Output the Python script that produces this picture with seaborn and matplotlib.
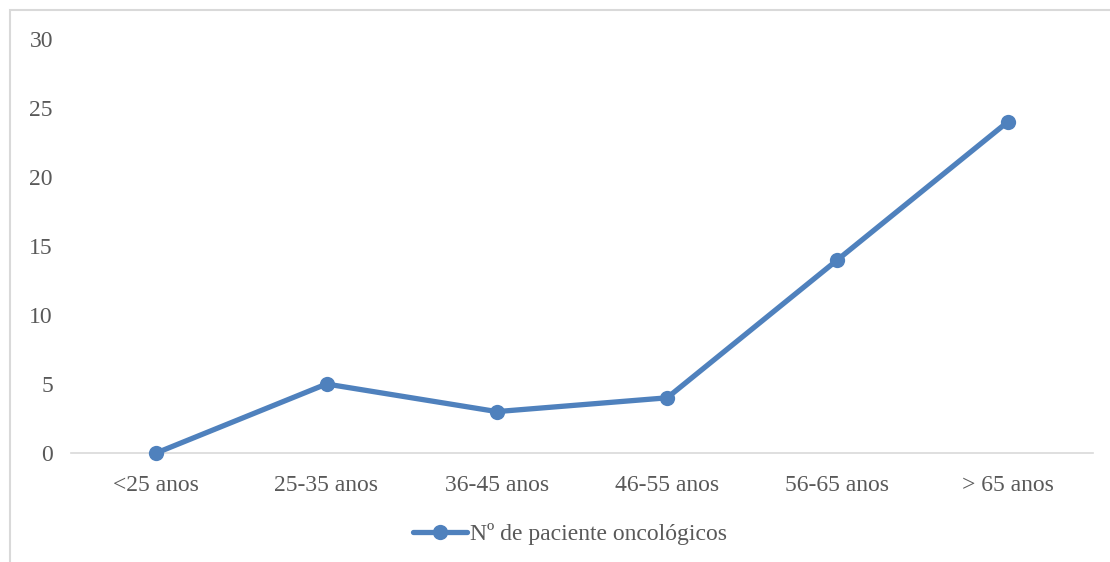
import matplotlib.pyplot as plt
import seaborn as sns
import pandas as pd
from matplotlib.patches import Rectangle

# dados
faixas = ['<25 anos', '25-35 anos', '36-45 anos', '46-55 anos', '56-65 anos', '> 65 anos']
pacientes = [0, 5, 3, 4, 14, 24]
serie = 'Nº de paciente oncológicos'

df = pd.DataFrame({'faixa': faixas, 'n': pacientes})

sns.set_style('white')
plt.rcParams['font.family'] = ['Liberation Serif', 'DejaVu Serif']
cor = '#4F81BD'
txt = '#595959'

fig = plt.figure(figsize=(11.1, 5.62), dpi=100)
ax = fig.add_axes([71/1110, 109/562, 1022/1110, 414/562])

sns.lineplot(data=df, x='faixa', y='n', ax=ax, color=cor, linewidth=3.8,
             marker='o', markersize=11, markeredgewidth=0, label=serie,
             sort=False, clip_on=False, zorder=3)

ax.set_xlim(-0.5, len(faixas) - 0.5)
ax.set_ylim(0, 30)
ax.set_yticks(range(0, 31, 5))
ax.set_xlabel('')
ax.set_ylabel('')
for s in ['top', 'right', 'left']:
    ax.spines[s].set_visible(False)
ax.spines['bottom'].set_color('#d9d9d9')
ax.spines['bottom'].set_linewidth(1.2)
ax.spines['bottom'].set_zorder(0)
ax.tick_params(axis='both', length=0, labelsize=17, colors=txt)
ax.tick_params(axis='y', pad=13)
ax.tick_params(axis='x', pad=16)

h, l = ax.get_legend_handles_labels()
ax.get_legend().remove()
fig.legend(h, l, loc='center', bbox_to_anchor=(570/1110, 1 - 534/562),
           frameon=False, fontsize=17, labelcolor=txt,
           handlelength=2.3, handletextpad=0.1)

# borda da área do gráfico
fig.patches.append(Rectangle((10/1110, -0.1), 1.2, 1.1 - 10/562,
                             transform=fig.transFigure, fill=False,
                             edgecolor='#d9d9d9', linewidth=1.5))

fig.savefig('out.png', dpi=100)
